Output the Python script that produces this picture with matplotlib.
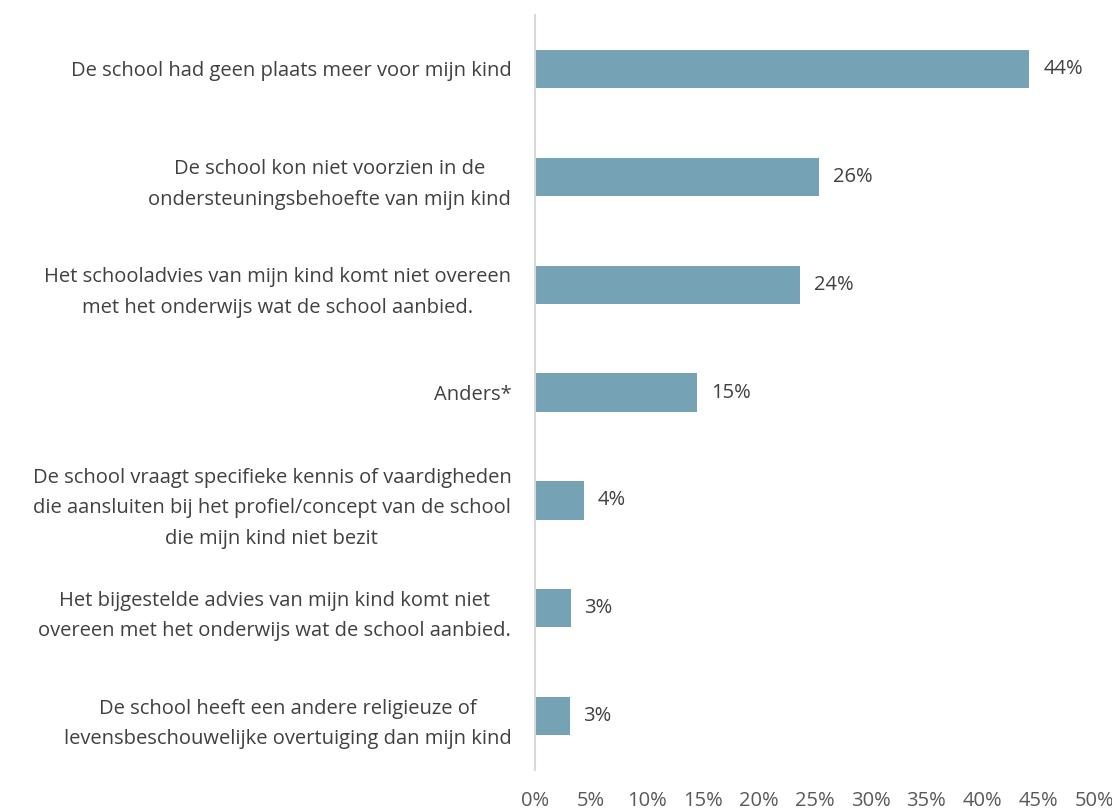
import matplotlib
matplotlib.use('Agg')
import matplotlib.pyplot as plt
from matplotlib.ticker import MultipleLocator, FuncFormatter

categories = [
    'De school had geen plaats meer voor mijn kind',
    'De school kon niet voorzien in de\nondersteuningsbehoefte van mijn kind',
    'Het schooladvies van mijn kind komt niet overeen\nmet het onderwijs wat de school aanbied.',
    'Anders*',
    'De school vraagt specifieke kennis of vaardigheden\ndie aansluiten bij het profiel/concept van de school\ndie mijn kind niet bezit',
    'Het bijgestelde advies van mijn kind komt niet\novereen met het onderwijs wat de school aanbied.',
    'De school heeft een andere religieuze of\nlevensbeschouwelijke overtuiging dan mijn kind',
]
values = [44.2, 25.4, 23.7, 14.5, 4.4, 3.2, 3.1]
value_labels = ['44%', '26%', '24%', '15%', '4%', '3%', '3%']

plt.rcParams['font.family'] = ['Open Sans', 'DejaVu Sans']
text_color = '#404040'
bar_color = '#76A2B5'

fig = plt.figure(figsize=(11.12, 8.10), dpi=100)
ax = fig.add_axes([0.481, 0.0494, 0.503, 0.932])

y = list(range(len(categories)))
ax.barh(y, values, height=0.355, color=bar_color)
for yi, v, lab in zip(y, values, value_labels):
    ax.annotate(lab, xy=(v, yi), xytext=(10, 0), textcoords='offset points',
                va='center', ha='left', fontsize=14.5, color=text_color)

ax.set_xlim(0, 50)
ax.set_ylim(len(categories) - 0.5, -0.5)
ax.set_yticks(y)
ax.set_yticklabels(categories, fontsize=14.5, color=text_color, ha='right',
                   multialignment='center', linespacing=1.7)
ax.xaxis.set_major_locator(MultipleLocator(5))
ax.xaxis.set_major_formatter(FuncFormatter(lambda x, p: f'{int(x)}%'))
ax.tick_params(axis='x', length=0, labelsize=14.5, labelcolor='#595959', pad=15)
ax.tick_params(axis='y', length=0, pad=17)

for s in ['top', 'right', 'bottom']:
    ax.spines[s].set_visible(False)
ax.spines['left'].set_color('#D9D9D9')
ax.spines['left'].set_linewidth(1.5)

fig.savefig('out.png', dpi=100)
